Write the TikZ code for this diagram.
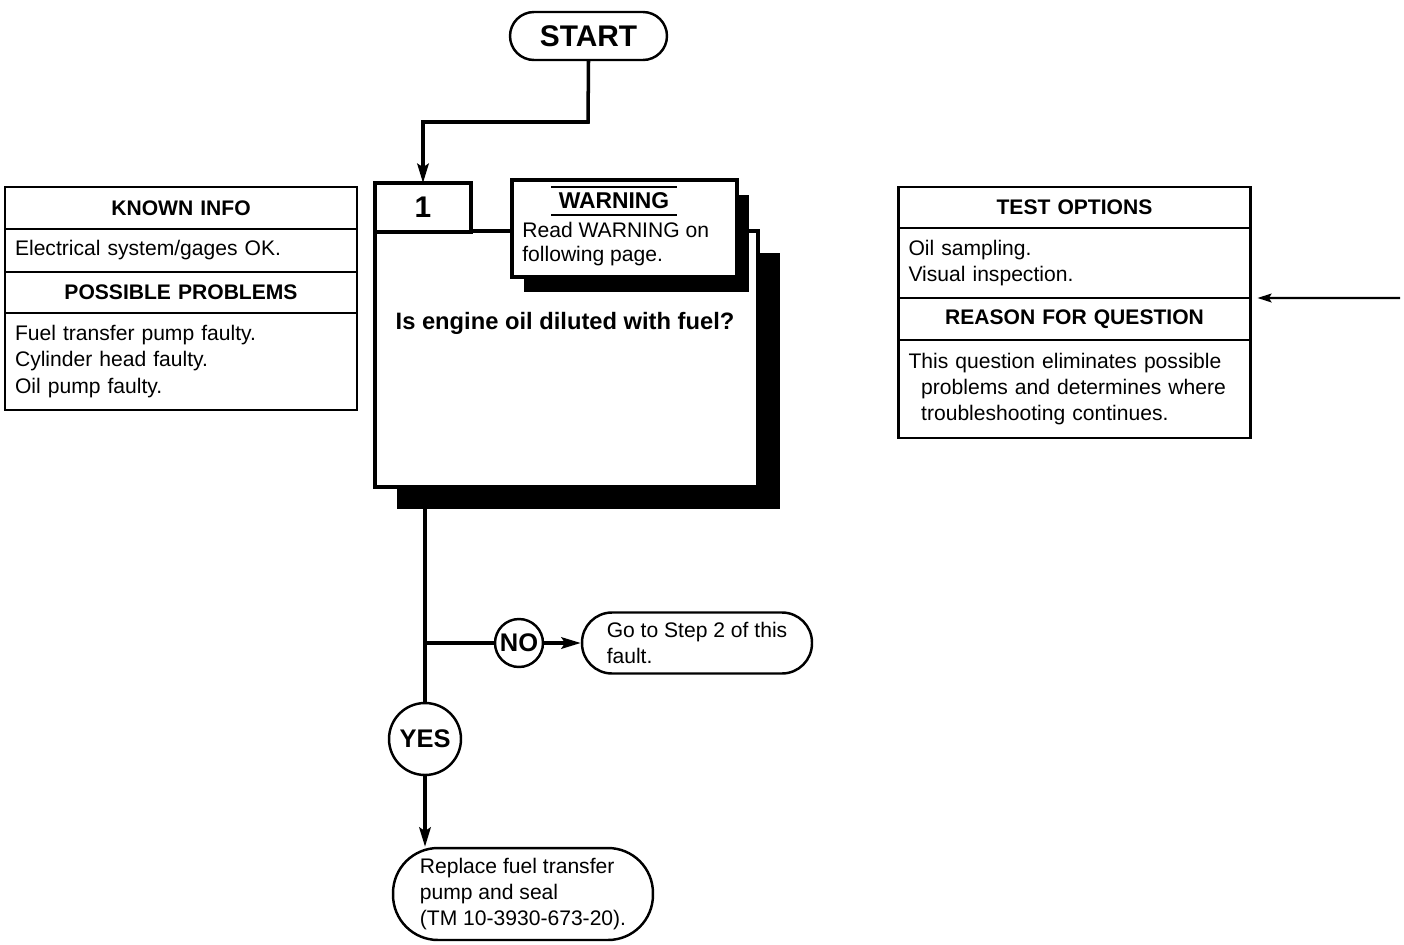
\documentclass[tikz,border=0pt]{standalone}
\usepackage{fontspec}
\setmainfont{Liberation Sans}
\usetikzlibrary{arrows.meta,positioning,shadows}
\newcommand{\bodyfont}{\fontsize{12}{15}\selectfont}
\newcommand{\headfont}{\fontsize{12}{15}\selectfont\bfseries}
\tikzset{
every picture/.style={line join=miter},
info head/.style={
  draw,
  line width=1.4pt,
  outer sep=0pt,
  inner xsep=0.2cm,
  inner ysep=0pt,
  text width=6.64cm,
  align=center,
  font=\headfont
},
info body/.style={info head, align=left, font=\bodyfont},
step box/.style={
  draw,
  fill=white,
  line width=2.2pt,
  outer sep=0pt,
  inner sep=0pt
},
end box/.style={
  draw,
  fill=white,
  line width=1.4pt,
  align=left,
  inner sep=0pt,
  font=\bodyfont
},
answer/.style={
  draw,
  circle,
  fill=white,
  line width=1.4pt,
  inner sep=0pt,
  font=\fontsize{14.5}{16}\selectfont\bfseries
},
link/.style={draw, line width=2pt},
flow/.style={link, -{Stealth[length=11pt,width=6.5pt,inset=2pt]}},
thin flow/.style={draw, line width=1.2pt, -{Stealth[length=8pt,width=5pt,inset=1.5pt]}}
}
\begin{document}
\begin{tikzpicture}[x=0.02cm,y=-0.02cm]
\useasboundingbox (0,0) rectangle (1404,944);
% known info / possible problems
\node[info head, minimum height=0.84cm, anchor=north] (known) at (181,187) {KNOWN INFO};
\node[info body, minimum height=0.86cm, below=0pt of known] (knowntxt) {Electrical system/gages OK.};
\node[info head, minimum height=0.82cm, below=0pt of knowntxt] (problems) {POSSIBLE PROBLEMS};
\node[info body, minimum height=1.94cm, below=0pt of problems] (problemstxt) {Fuel transfer pump faulty.\\Cylinder head faulty.\\Oil pump faulty.};
% test options / reason for question
\node[info head, minimum height=0.82cm, anchor=north] (tests) at (1074.5,187) {TEST OPTIONS};
\node[info body, minimum height=1.40cm, below=0pt of tests] (teststxt) {Oil sampling.\\Visual inspection.};
\node[info head, minimum height=0.84cm, below=0pt of teststxt] (reason) {REASON FOR QUESTION};
\node[info body, minimum height=1.96cm, below=0pt of reason] (reasontxt) {This question eliminates possible\\\hspace*{0.6em}problems and determines where\\\hspace*{0.6em}troubleshooting continues.};
% start
\node[end box, rounded corners=0.48cm, minimum width=3.14cm, minimum height=0.96cm, align=center,
  font=\fontsize{17}{19}\selectfont\bfseries] (start) at (588.5,36) {START};
% step 1
\node[step box, minimum width=7.66cm, minimum height=5.12cm,
  general shadow={fill=black, shadow xshift=0.44cm, shadow yshift=-0.44cm}] (step) at (566.5,359) {};
\node[step box, minimum width=1.92cm, minimum height=0.98cm,
  font=\fontsize{17}{19}\selectfont\bfseries] (tab) at (423,207.5) {1};
\node[step box, line width=1.8pt, minimum width=4.5cm, minimum height=1.94cm,
  general shadow={fill=black, shadow xshift=0.24cm, shadow yshift=-0.3cm}] (warn) at (624.5,228.5) {};
\node[inner xsep=0.14cm, inner ysep=0pt, minimum height=0.56cm,
  font=\fontsize{13}{15}\selectfont\bfseries] (warnhead) at (614,201) {WARNING};
\draw[line width=1.2pt] (warnhead.north west) -- (warnhead.north east);
\draw[line width=1.2pt] (warnhead.south west) -- (warnhead.south east);
\node[anchor=west, align=left, inner sep=0pt, font=\fontsize{12}{13.8}\selectfont] (warntxt) at (522,244) {Read WARNING on\\following page.};
\node[font=\fontsize{13.5}{16}\selectfont\bfseries] (question) at (565,323) {Is engine oil diluted with fuel?};
% answers
\node[answer, minimum size=0.96cm] (no) at (519,643) {NO};
\node[answer, minimum size=1.44cm] (yes) at (425,739) {YES};
\node[end box, rounded corners=0.6cm, minimum width=4.6cm, minimum height=1.22cm] (goto) at (697,643) {Go to Step 2 of this\\fault.};
\node[end box, rounded corners=0.9cm, minimum width=5.2cm, minimum height=1.84cm] (replace) at (523,894) {Replace fuel transfer\\pump and seal\\(TM 10-3930-673-20).};
% connectors
\coordinate (bend) at (588,122);
\draw[flow] (start.south) -- (bend) -| (tab.north);
\draw[link] (step.south -| yes.north) -- (yes.north);
\coordinate (fork) at (yes.north |- no.west);
\draw[link] (fork) -- (no.west);
\draw[flow] (no.east) -- (goto.west);
\draw[flow] (yes.south) -- (replace.north -| yes.south);
\coordinate (feed) at (1400,298);
\draw[thin flow, shorten >=0.14cm] (feed) -- (reason.north east);
\end{tikzpicture}
\end{document}
